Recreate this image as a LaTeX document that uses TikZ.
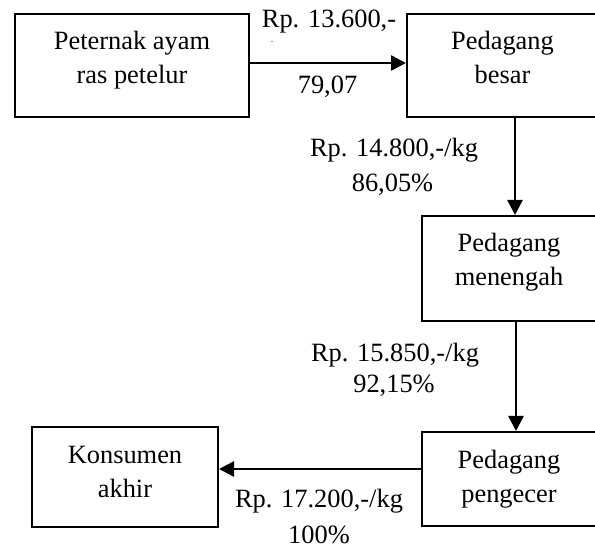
\documentclass[tikz,border=0pt]{standalone}
\usepackage{fontspec}
\setmainfont{Liberation Serif}
\usetikzlibrary{arrows.meta}
\newcommand\mytop{\rule{0pt}{18.5pt}}
\newcommand\mybot[1]{\rule[-#1pt]{0pt}{0pt}}
\begin{document}
\begin{tikzpicture}[x=1pt,y=1pt,
  box/.style={draw, line width=2pt, align=center, inner sep=0pt,
    font=\fontsize{26.4}{34}\selectfont},
  arr/.style={line width=2.5pt, -{Triangle[length=15pt,width=15pt]}},
  lbl/.style={anchor=base, inner sep=0pt, font=\fontsize{26.4}{34}\selectfont}]
\useasboundingbox (0,0) rectangle (595,549);
% boxes
\node[box, minimum width=234pt, minimum height=103pt] (b1) at (132,483.5)
  {\mytop Peternak ayam\\ras petelur\mybot{16.5}};
\node[box, minimum width=191pt, minimum height=103pt] (b2) at (502.5,483.5)
  {\mytop Pedagang\\besar\mybot{16.5}};
\node[box, minimum width=174pt, minimum height=105pt] (b3) at (509,280.5)
  {\mytop Pedagang\\menengah\mybot{17.8}};
\node[box, minimum width=174pt, minimum height=94pt] (b4) at (509,70)
  {\mytop Pedagang\\pengecer\mybot{6}};
\node[box, minimum width=186pt, minimum height=100pt] (b5) at (125,72)
  {\mytop Konsumen\\akhir\mybot{11.9}};
% connector guide coordinates
\coordinate (a1) at (0,486);
\coordinate (a2) at (515,0);
\coordinate (a3) at (516,0);
\coordinate (a4) at (0,80);
% connectors
\draw[arr] (b1.east |- a1) -- (b2.west |- a1);
\draw[arr] (b2.south -| a2) -- (b3.north -| a2);
\draw[arr] (b3.south -| a3) -- (b4.north -| a3);
\draw[arr] (b4.west |- a4) -- (b5.east |- a4);
% labels
\node[lbl] (l1a) at (329,521) {Rp. 13.600,-};
\node[inner sep=0pt, font=\fontsize{6}{7}\selectfont] (l1x) at (272,506) {-};
\node[lbl] (l1b) at (327.5,455) {79,07};
\node[lbl] (l2a) at (394,392) {Rp. 14.800,-/kg};
\node[lbl] (l2b) at (392.5,357) {86,05\%};
\node[lbl] (l3a) at (395,187) {Rp. 15.850,-/kg};
\node[lbl] (l3b) at (394,156) {92,15\%};
\node[lbl] (l4a) at (319,41) {Rp. 17.200,-/kg};
\node[lbl] (l4b) at (319,5) {100\%};
\end{tikzpicture}
\end{document}
